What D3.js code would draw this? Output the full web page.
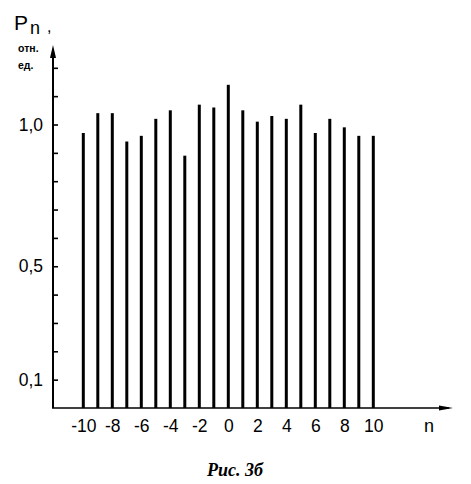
<!DOCTYPE html>
<html>
<head>
<meta charset="utf-8">
<script src="https://cdn.jsdelivr.net/npm/d3@7"></script>
<style>
    body { margin: 0; background: #fff; }
    text { font-family: "Liberation Sans", Arial, sans-serif; fill: #000; }
</style>
</head>
<body>
<div id="chart"></div>
<script>

// harmonic number n and its relative power P_n
const harmonics = [-10, -9, -8, -7, -6, -5, -4, -3, -2, -1, 0, 1, 2, 3, 4, 5, 6, 7, 8, 9, 10]
const power = [0.97, 1.04, 1.04, 0.94, 0.96, 1.02, 1.05, 0.89, 1.07, 1.06, 1.14,
               1.05, 1.01, 1.03, 1.02, 1.07, 0.97, 1.02, 0.99, 0.96, 0.96]

// axis ticks
const xTickValues = [-10, -8, -6, -4, -2, 0, 2, 4, 6, 8, 10]
const yTickValues = [0.1, 0.2, 0.3, 0.4, 0.5, 0.6, 0.7, 0.8, 0.9, 1.0, 1.1, 1.2]
const yLabelValues = [0.1, 0.5, 1.0]

const outerWidth = 471
const outerHeight = 484

const axisX = 53      // y axis position
const axisY = 408     // x axis position
const axisTop = 45
const axisRight = 453

const svg = d3.select("#chart").append("svg")
    .attr("width", outerWidth)
    .attr("height", outerHeight)

// scales
const xScale = d3.scaleLinear()
    .domain([-10, 10])
    .range([83.3, 373.3])
const yScale = d3.scaleLinear()
    .domain([0, 1])
    .range([axisY, 124.5])

const commaFormat = d3.formatLocale({decimal: ",", thousands: " ", grouping: [3], currency: ["", ""]}).format(".1f")

// bars
svg.append("g")
    .selectAll("rect")
    .data(harmonics)
    .join("rect")
    .attr("x", (d) => xScale(d) - 1.5)
    .attr("width", 3)
    .attr("y", (d, i) => yScale(power[i]))
    .attr("height", (d, i) => axisY - yScale(power[i]))
    .attr("fill", "#000")

// y axis: inward ticks, labels only on some of them
const yAxis = svg.append("g")
    .attr("transform", "translate(" + axisX + ",0)")
    .call(d3.axisLeft(yScale)
        .tickValues(yTickValues)
        .tickSize(-5)
        .tickPadding(10)
        .tickFormat(d => yLabelValues.some(v => Math.abs(v - d) < 1e-9) ? commaFormat(d) : ""))
yAxis.select(".domain").remove()
yAxis.selectAll(".tick line").attr("stroke", "#000").attr("stroke-width", 1.6)
yAxis.selectAll(".tick text")
    .attr("font-size", "17.5px")
    .attr("font-family", "Liberation Sans, Arial, sans-serif")

svg.append("line")
    .attr("x1", axisX).attr("x2", axisX)
    .attr("y1", axisY).attr("y2", axisTop + 4)
    .attr("stroke", "#000")
    .attr("stroke-width", 2)
svg.append("path")
    .attr("d", "M" + axisX + "," + axisTop + "L" + (axisX - 3) + "," + (axisTop + 13) + "L" + (axisX + 3) + "," + (axisTop + 13) + "Z")
    .attr("fill", "#000")

// x axis: labels only, no tick marks
const xAxis = svg.append("g")
    .attr("transform", "translate(0," + axisY + ")")
    .call(d3.axisBottom(xScale)
        .tickValues(xTickValues)
        .tickSize(0)
        .tickPadding(12)
        .tickFormat(d => String(d)))
xAxis.select(".domain").remove()
xAxis.selectAll(".tick text")
    .attr("font-size", "17.5px")
    .attr("font-family", "Liberation Sans, Arial, sans-serif")

svg.append("line")
    .attr("x1", axisX - 1).attr("x2", axisRight - 4)
    .attr("y1", axisY).attr("y2", axisY)
    .attr("stroke", "#000")
    .attr("stroke-width", 1.6)
svg.append("path")
    .attr("d", "M" + axisRight + "," + axisY + "L" + (axisRight - 14) + "," + (axisY - 2.5) + "L" + (axisRight - 14) + "," + (axisY + 2.5) + "Z")
    .attr("fill", "#000")

svg.append("text")
    .attr("x", 424)
    .attr("y", 432)
    .attr("font-size", "18px")
    .text("n")

// y title
svg.append("text")
    .attr("x", 14)
    .attr("y", 30)
    .attr("font-size", "21px")
    .text("P")
svg.append("text")
    .attr("x", 30)
    .attr("y", 34)
    .attr("font-size", "18px")
    .text("n")
svg.append("text")
    .attr("x", 47)
    .attr("y", 32)
    .attr("font-size", "16px")
    .text(",")
svg.append("text")
    .attr("x", 18)
    .attr("y", 52)
    .attr("font-size", "10.5px")
    .attr("font-weight", "bold")
    .text("отн.")
svg.append("text")
    .attr("x", 18)
    .attr("y", 69)
    .attr("font-size", "10.5px")
    .attr("font-weight", "bold")
    .text("ед.")

// caption
svg.append("text")
    .attr("x", 235)
    .attr("y", 476)
    .attr("text-anchor", "middle")
    .attr("font-size", "18px")
    .attr("font-weight", "bold")
    .attr("font-style", "italic")
    .style("font-family", "'Liberation Serif', 'Times New Roman', serif")
    .text("Рис. 3б")

</script>
</body>
</html>
